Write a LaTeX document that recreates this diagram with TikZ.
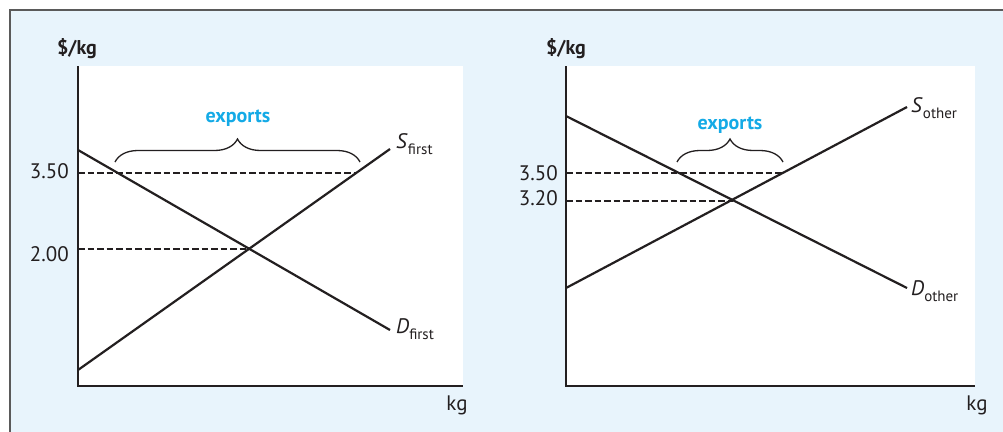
\documentclass[tikz,border=0pt]{standalone}
\usepackage{fontspec}
\setmainfont{PT Sans}
\usetikzlibrary{decorations.pathreplacing}
\definecolor{panelbg}{RGB}{232,244,252}
\definecolor{framegray}{RGB}{90,90,90}
\definecolor{ink}{RGB}{35,31,32}
\definecolor{expcyan}{RGB}{20,170,230}
\tikzset{
  curve/.style={draw=ink, line width=2.2pt},
  axis/.style={draw=ink, line width=2pt},
  guide/.style={draw=ink, line width=1.3pt, dash pattern=on 6.5pt off 3pt},
  lbl/.style={text=ink, font=\fontsize{21}{24}\selectfont, inner sep=0pt},
  exptxt/.style={text=expcyan, font=\fontsize{20}{24}\selectfont\bfseries, inner sep=0pt},
  bracket/.style={draw=ink, line width=1.3pt, decorate, decoration={brace, amplitude=23pt, aspect=0.5}}
}
\newcommand{\sublab}[2]{\textit{#1}\raisebox{-6pt}{\fontsize{15}{17}\selectfont #2}}
\begin{document}
\begin{tikzpicture}[x=1pt,y=-1pt]
\useasboundingbox (0,0) rectangle (1003,431);
\fill[white] (0,0) rectangle (1003,431);
\fill[panelbg] (10,10) rectangle (1010,440);
\draw[framegray, line width=2.6pt] (10,440) -- (10,10) -- (1010,10);
% ---------- left panel ----------
\fill[white] (78,66) rectangle (463,386);
\coordinate (LO) at (78,386);
\coordinate (LT) at (78,66);
\coordinate (LR) at (463,386);
\draw[axis] (LT) -- (LO) -- (LR);
\coordinate (Ds) at (78,150);
\coordinate (De) at (390,330);
\coordinate (Ss) at (78,370);
\coordinate (Se) at (390,149);
\coordinate (LE) at (250,249);
\coordinate (L35a) at (78,173);
\coordinate (L35b) at (357,173);
\coordinate (L20a) at (78,249);
\draw[curve] (Ds) -- (De);
\draw[curve] (Ss) -- (Se);
\draw[guide] (L35a) -- (L35b);
\draw[guide] (L20a) -- (LE);
\coordinate (LBa) at (115,162);
\coordinate (LBb) at (360,162);
\draw[bracket] (LBa) -- (LBb);
\node[exptxt] (lexp) at (238,118) {exports};
\node[lbl, anchor=base east] (l350) at (69,178) {3.50};
\node[lbl, anchor=base east] (l200) at (69,261) {2.00};
\node[lbl, font=\fontsize{20}{24}\selectfont\bfseries] (lyl) at (77,49) {\$/kg};
\node[lbl] (lxl) at (457,405) {kg};
\node[lbl, anchor=base west] (lsl) at (396,148) {\sublab{S}{first}};
\node[lbl, anchor=base west] (ldl) at (396,333) {\sublab{D}{first}};
% ---------- right panel ----------
\fill[white] (566,66) rectangle (975,386);
\coordinate (RO) at (566,386);
\coordinate (RT) at (566,66);
\coordinate (RR) at (975,386);
\draw[axis] (RT) -- (RO) -- (RR);
\coordinate (rDs) at (566,116);
\coordinate (rDe) at (907,288);
\coordinate (rSs) at (566,288);
\coordinate (rSe) at (907,107);
\coordinate (RE) at (733,201);
\coordinate (R35a) at (566,173);
\coordinate (R35b) at (782,173);
\coordinate (R32a) at (566,201);
\draw[curve] (rDs) -- (rDe);
\draw[curve] (rSs) -- (rSe);
\draw[guide] (R35a) -- (R35b);
\draw[guide] (R32a) -- (RE);
\coordinate (RBa) at (677,162);
\coordinate (RBb) at (783,162);
\draw[bracket] (RBa) -- (RBb);
\node[exptxt] (rexp) at (730,125) {exports};
\node[lbl, anchor=base east] (r350) at (558,180) {3.50};
\node[lbl, anchor=base east] (r320) at (558,205) {3.20};
\node[lbl, font=\fontsize{20}{24}\selectfont\bfseries] (ryl) at (566,49) {\$/kg};
\node[lbl] (rxl) at (977,405) {kg};
\node[lbl, anchor=base west] (rsl) at (911,112) {\sublab{S}{other}};
\node[lbl, anchor=base west] (rdl) at (911,295) {\sublab{D}{other}};
\end{tikzpicture}
\end{document}
